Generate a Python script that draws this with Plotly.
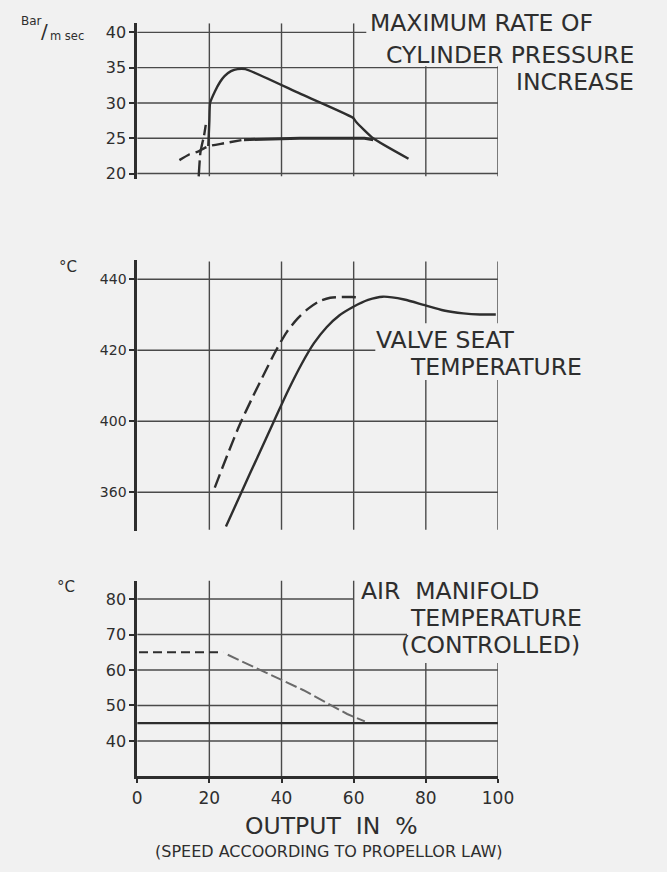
import plotly.graph_objects as go

# ---------------- DATA ----------------
# Top panel: maximum rate of cylinder pressure increase (bar/ms) vs output %
top_solid_x = [19.7, 20.0, 20.2, 21.5, 23.0, 24.2, 26.0, 27.8, 30.0, 45.0, 59.8, 60.7, 65.4, 75.2]
top_solid_y = [23.9, 27.5, 30.0, 31.6, 33.0, 33.8, 34.5, 34.8, 34.8, 31.35, 27.9, 27.3, 25.0, 22.1]
top_rise_x = [17.05, 17.5, 18.0, 18.5, 19.0]
top_rise_y = [19.6, 22.9, 24.2, 25.3, 26.9]
top_dash_x = [11.7, 14.4, 17.0, 19.7, 24.2, 29.6]
top_dash_y = [21.9, 22.7, 23.15, 23.85, 24.3, 24.8]
top_low_x = [29.6, 45.0, 63.0, 65.4]
top_low_y = [24.8, 25.0, 25.0, 24.8]
top_ticks = [20, 25, 30, 35, 40]

# Middle panel: valve seat temperature
mid_solid_x = [24.6, 28.9, 33.4, 37.9, 42.0, 45.5, 49.0, 52.5, 56.0, 59.8, 64.0, 68.1, 74.0, 79.7, 85.0, 90.4, 95.0, 99.4]
mid_solid_y = [370.3, 380.0, 390.0, 400.0, 409.0, 416.0, 422.0, 426.5, 429.8, 432.2, 434.2, 435.1, 434.3, 432.7, 431.2, 430.4, 430.1, 430.1]
mid_dash_x = [21.5, 25.0, 28.4, 32.0, 35.5, 38.5, 41.5, 44.5, 47.5, 50.5, 53.5, 56.5, 59.5, 62.0]
mid_dash_y = [381.3, 390.5, 399.0, 406.8, 414.0, 420.0, 425.2, 429.0, 431.8, 433.8, 434.8, 435.0, 435.0, 434.8]
mid_tickvals = [380, 400, 420, 440]
mid_ticktext = ["360", "400", "420", "440"]

# Bottom panel: air manifold temperature (controlled)
bot_dash_x = [0.5, 23.8]
bot_dash_y = [65.0, 65.0]
bot_slope_x = [25.1, 39.4, 46.1, 58.2, 63.1]
bot_slope_y = [64.3, 57.4, 54.3, 47.6, 45.5]
bot_solid_x = [0, 100]
bot_solid_y = [45, 45]
bot_ticks = [40, 50, 60, 70, 80]
x_ticks = [0, 20, 40, 60, 80, 100]

# ---------------- STYLE / LAYOUT ----------------
W, H = 667, 872
FONT = "DejaVu Sans"
INK = "#2e2e2e"
GRID = "#4a4a4a"
BG = "#f1f1f1"

def px_x(p):
    return p / W

def px_y(p):
    return 1 - p / H

xdom = [px_x(136.5), px_x(509)]
top_dom = [px_y(180), px_y(23.3)]
mid_dom = [px_y(533.3), px_y(261.7)]
bot_dom = [px_y(780), px_y(583.3)]
top_rng = [19.2, 41.3]
mid_rng = [369.1, 445.3]
bot_rng = [30, 85.2]

fig = go.Figure()

def line(x, y, ax, dash="solid", color=INK, width=2.4, smooth=0.6):
    shape = "spline" if smooth else "linear"
    ln = dict(color=color, width=width, dash=dash, shape=shape)
    if smooth:
        ln["smoothing"] = smooth
    fig.add_trace(go.Scatter(x=x, y=y, mode="lines", xaxis=ax[0], yaxis=ax[1],
                             line=ln, showlegend=False, hoverinfo="skip"))

A1, A2, A3 = ("x", "y"), ("x2", "y2"), ("x3", "y3")
line(top_solid_x, top_solid_y, A1, smooth=0.5)
line(top_rise_x, top_rise_y, A1, dash="16px,5px")
line(top_dash_x, top_dash_y, A1, dash="12px,6px")
line(top_low_x, top_low_y, A1, width=3, smooth=0)
line(mid_solid_x, mid_solid_y, A2, smooth=0.8)
line(mid_dash_x, mid_dash_y, A2, dash="14px,6px", smooth=0.8)
line(bot_solid_x, bot_solid_y, A3, width=2.2, smooth=0)
line(bot_dash_x, bot_dash_y, A3, dash="9px,5px", width=2, smooth=0)
line(bot_slope_x, bot_slope_y, A3, dash="12px,4px", color="#6a6a6a", width=2, smooth=0)

shapes = []

def seg(xr, yr, x0, y0, x1, y1, w=1.4, c=GRID):
    shapes.append(dict(type="line", xref=xr, yref=yr, x0=x0, y0=y0, x1=x1, y1=y1,
                       line=dict(color=c, width=w), layer="below"))

# top grid
for v in top_ticks:
    seg("x", "y", 0, v, 63.5 if v == 40 else 100, v)
for v in [20, 40, 60]:
    seg("x", "y", v, 19.6, v, 41.3)
for v in [80, 100]:
    seg("x", "y", v, 19.6, v, 35.2)
# middle grid
for v in mid_tickvals:
    seg("x2", "y2", 0, v, 66.0 if v == 420 else 100, v)
for v in [20, 40, 60]:
    seg("x2", "y2", v, 369.4, v, 445.0)
for v in [80, 100]:
    seg("x2", "y2", v, 427.6, v, 445.0)
    seg("x2", "y2", v, 369.4, v, 411.6)
# bottom grid
for v in bot_ticks:
    seg("x3", "y3", 0, v, 60 if v == 80 else (74.8 if v == 70 else 100), v)
for v in [20, 40, 60]:
    seg("x3", "y3", v, 30, v, 85.2)
for v in [80, 100]:
    seg("x3", "y3", v, 30, v, 62)

anns = []

def text(s, x, y, size, anchor="left", yanchor="middle"):
    anns.append(dict(text=s, x=px_x(x), y=px_y(y), xref="paper", yref="paper",
                     xanchor=anchor, yanchor=yanchor, showarrow=False,
                     font=dict(family=FONT, size=size, color=INK)))

BIG = 23.5
text("MAXIMUM RATE OF", 375, 23, BIG)
text("CYLINDER PRESSURE", 652, 55, BIG, anchor="right")
text("INCREASE", 652, 82, BIG, anchor="right")
text("VALVE SEAT", 381, 342, BIG)
text("TEMPERATURE", 598, 369, BIG, anchor="right")
text("AIR  MANIFOLD", 366, 594, BIG)
text("TEMPERATURE", 598, 621, BIG, anchor="right")
text("(CONTROLLED)", 596, 648, BIG, anchor="right")
text("OUTPUT  IN  %", 337, 830, BIG, anchor="center")
text("(SPEED ACCOORDING TO PROPELLOR LAW)", 335, 855, 16, anchor="center")
text("Bar", 14, 21, 12)
text("/", 41, 31, 20, anchor="center")
text("m sec", 44, 36, 11.5)
text("°C", 65, 268, 15, anchor="center")
text("°C", 63, 590, 15, anchor="center")

yax = dict(showline=True, linewidth=2.6, linecolor=INK, ticks="outside", ticklen=5,
           tickwidth=2, tickcolor=INK, showgrid=False, zeroline=False,
           tickfont=dict(family=FONT, size=16, color=INK))
xax_hidden = dict(domain=xdom, range=[0, 100], showgrid=False, zeroline=False,
                  showticklabels=False, showline=False, ticks="")

fig.update_layout(
    width=W, height=H, autosize=False,
    margin=dict(l=0, r=0, t=0, b=0),
    paper_bgcolor=BG, plot_bgcolor=BG,
    showlegend=False,
    xaxis=dict(xax_hidden, anchor="y"),
    xaxis2=dict(xax_hidden, anchor="y2"),
    xaxis3=dict(domain=xdom, range=[0, 100], anchor="y3", showgrid=False, zeroline=False,
                showline=True, linewidth=2.6, linecolor=INK, ticks="outside", ticklen=4,
                tickwidth=1.5, tickcolor=INK, tickvals=x_ticks,
                tickfont=dict(family=FONT, size=17, color=INK)),
    yaxis=dict(yax, domain=top_dom, range=top_rng, tickvals=top_ticks, anchor="x"),
    yaxis2=dict(yax, domain=mid_dom, range=mid_rng, tickvals=mid_tickvals,
                ticktext=mid_ticktext, anchor="x2", tickfont=dict(family=FONT, size=14, color=INK)),
    yaxis3=dict(yax, domain=bot_dom, range=bot_rng, tickvals=bot_ticks, anchor="x3"),
    shapes=shapes,
    annotations=anns,
)

fig.write_html("out.html")
